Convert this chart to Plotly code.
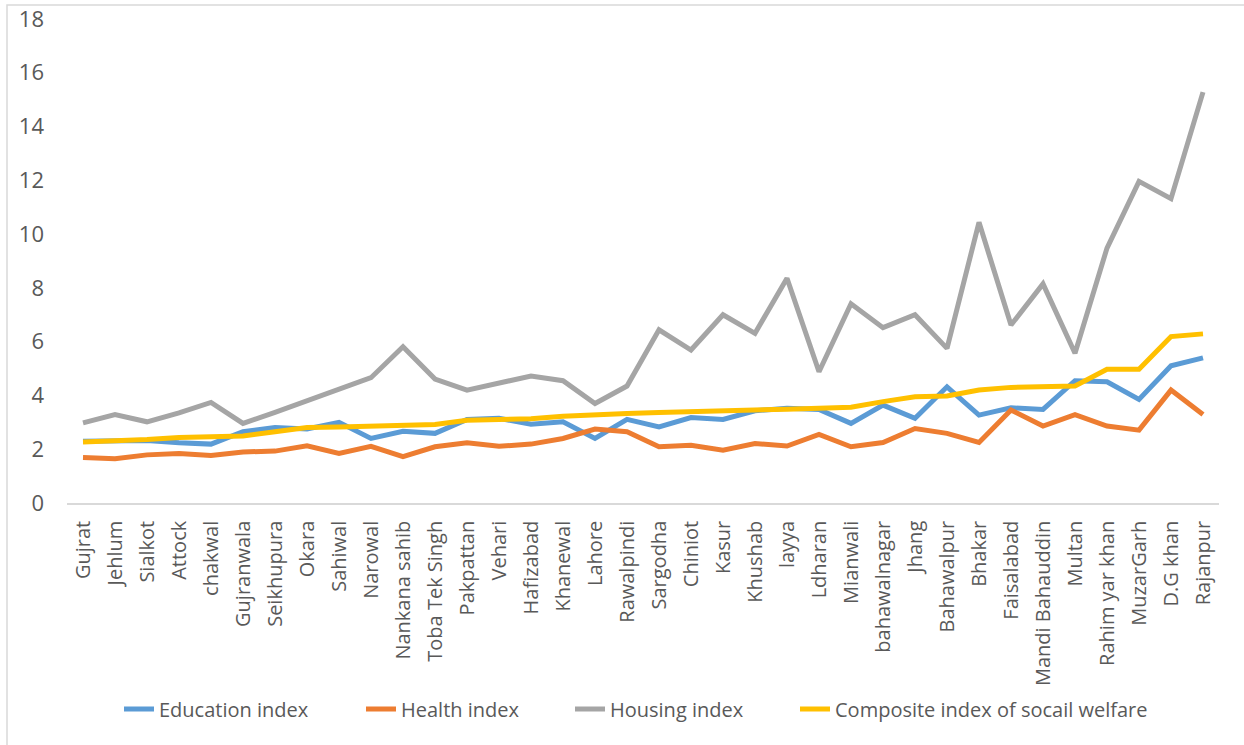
import plotly.graph_objects as go

districts = ["Gujrat", "Jehlum", "Sialkot", "Attock", "chakwal", "Gujranwala", "Seikhupura",
             "Okara", "Sahiwal", "Narowal", "Nankana sahib", "Toba Tek Singh", "Pakpattan",
             "Vehari", "Hafizabad", "Khanewal", "Lahore", "Rawalpindi", "Sargodha", "Chiniot",
             "Kasur", "Khushab", "layya", "Ldharan", "Mianwali", "bahawalnagar", "Jhang",
             "Bahawalpur", "Bhakar", "Faisalabad", "Mandi Bahauddin", "Multan", "Rahim yar khan",
             "MuzarGarh", "D.G khan", "Rajanpur"]

education = [2.30, 2.30, 2.32, 2.24, 2.19, 2.65, 2.81, 2.75, 3.00, 2.40, 2.67, 2.59, 3.11,
             3.15, 2.93, 3.02, 2.40, 3.11, 2.83, 3.18, 3.11, 3.43, 3.52, 3.48, 2.96, 3.64,
             3.15, 4.32, 3.27, 3.54, 3.48, 4.55, 4.51, 3.85, 5.10, 5.40]

health = [1.69, 1.65, 1.79, 1.84, 1.77, 1.90, 1.93, 2.13, 1.84, 2.11, 1.72, 2.09, 2.24,
          2.11, 2.19, 2.40, 2.75, 2.65, 2.09, 2.15, 1.96, 2.21, 2.12, 2.55, 2.09, 2.25,
          2.77, 2.59, 2.25, 3.46, 2.86, 3.29, 2.86, 2.71, 4.20, 3.29]

housing = [2.98, 3.29, 3.02, 3.35, 3.74, 2.96, 3.37, 3.79, 4.23, 4.66, 5.81, 4.61, 4.20,
           4.45, 4.72, 4.55, 3.70, 4.35, 6.44, 5.69, 7.00, 6.31, 8.36, 4.88, 7.41, 6.52,
           7.00, 5.75, 10.44, 6.62, 8.15, 5.57, 9.48, 11.96, 11.32, 15.28]

composite = [2.27, 2.31, 2.36, 2.44, 2.46, 2.49, 2.65, 2.81, 2.83, 2.86, 2.88, 2.92, 3.08,
             3.11, 3.13, 3.23, 3.26, 3.33, 3.37, 3.39, 3.43, 3.47, 3.49, 3.52, 3.56, 3.77,
             3.95, 3.98, 4.20, 4.30, 4.32, 4.35, 4.97, 4.97, 6.19, 6.29]

series_names = ["Education index", "Health index", "Housing index",
                "Composite index of socail welfare"]
series_values = [education, health, housing, composite]
series_colors = ["#5B9BD5", "#ED7D31", "#A5A5A5", "#FFC000"]

FONT = "Open Sans"
TXT = "#595959"

W, H = 1244, 745
L, R, T, B = 67, 25, 19, 242
pw, ph = W - L - R, H - T - B


def px_x(p):
    return (p - L) / pw


def px_y(p):
    return (H - B - p) / ph


# pixel x where each legend entry's text should begin
legend_text_x = [159, 401, 610, 835]
legend_ids = ["legend", "legend2", "legend3", "legend4"]

fig = go.Figure()
for name, vals, col, lid in zip(series_names, series_values, series_colors, legend_ids):
    fig.add_trace(go.Scatter(x=districts, y=vals, mode="lines", name=name, legend=lid,
                             line=dict(color=col, width=5)))

legend_layout = {}
for lid, tx in zip(legend_ids, legend_text_x):
    legend_layout[lid] = dict(orientation="h", x=px_x(tx - 40), xanchor="left",
                              y=px_y(709), yanchor="middle",
                              font=dict(family=FONT, size=20, color=TXT),
                              bgcolor="rgba(0,0,0,0)")

fig.update_layout(
    width=W, height=H,
    margin=dict(l=L, r=R, t=T, b=B, autoexpand=False),
    paper_bgcolor="white", plot_bgcolor="white",
    font=dict(family=FONT, size=20, color=TXT),
    showlegend=True,
    xaxis=dict(type="category", tickangle=-90, showgrid=False, showline=True,
               linecolor="#D9D9D9", linewidth=1.5, ticks="", zeroline=False,
               tickfont=dict(family=FONT, size=20, color=TXT), ticklabelstandoff=8,
               range=[-0.5, len(districts) - 0.5], automargin=False),
    yaxis=dict(range=[0, 18], dtick=2, showgrid=False, showline=False, zeroline=False,
               ticks="", tickfont=dict(family=FONT, size=22, color=TXT),
               ticklabelstandoff=22, automargin=False),
    shapes=[dict(type="rect", xref="paper", yref="paper",
                 x0=px_x(7), x1=px_x(1260), y0=px_y(760), y1=px_y(5),
                 line=dict(color="#D9D9D9", width=1.5), layer="below")],
    **legend_layout,
)

fig.write_html("out.html",
               config={"displayModeBar": False},
               post_script="document.body.style.margin='0';document.body.style.overflow='hidden';")
